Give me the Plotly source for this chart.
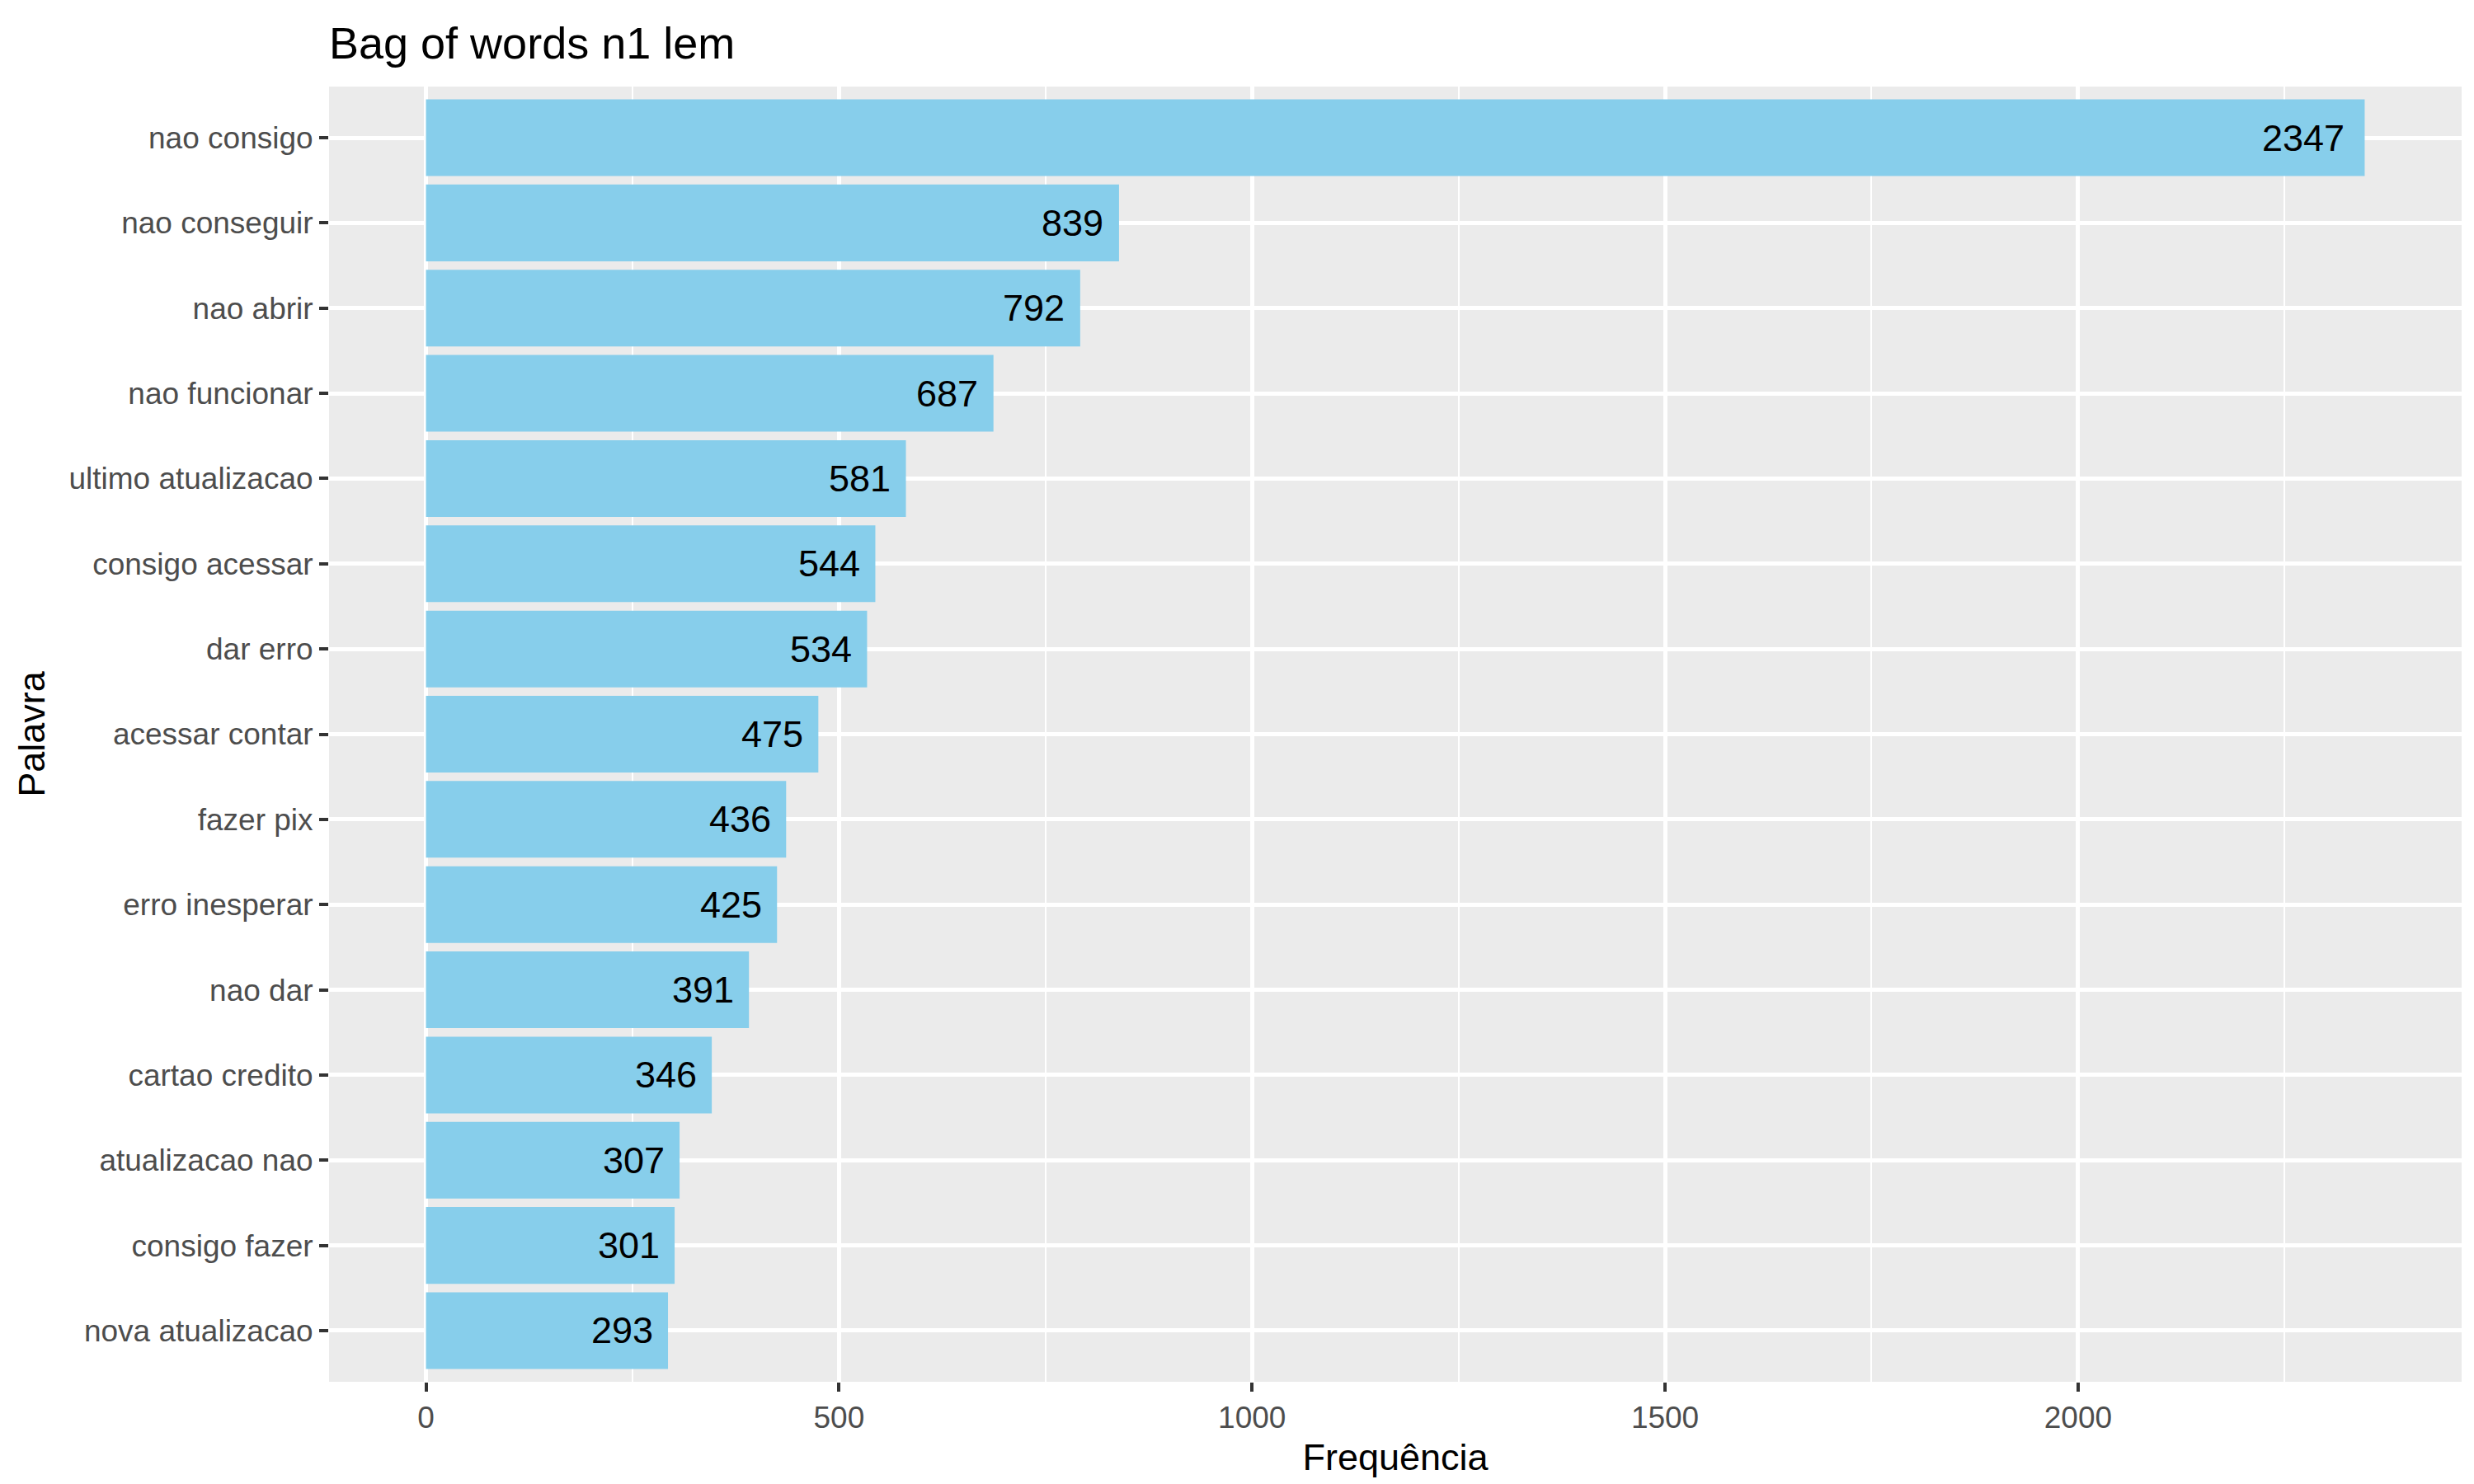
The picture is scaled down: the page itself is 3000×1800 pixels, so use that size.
# Bag of words (bigramas lematizados) - barras horizontais
import plotly.graph_objects as go

palavras = [
    "nao consigo", "nao conseguir", "nao abrir", "nao funcionar",
    "ultimo atualizacao", "consigo acessar", "dar erro", "acessar contar",
    "fazer pix", "erro inesperar", "nao dar", "cartao credito",
    "atualizacao nao", "consigo fazer", "nova atualizacao",
]
frequencias = [2347, 839, 792, 687, 581, 544, 534, 475, 436, 425, 391, 346, 307, 301, 293]

x_ticks = [0, 500, 1000, 1500, 2000]

font_family = "Liberation Sans, Arial, Helvetica, sans-serif"

fig = go.Figure()

fig.add_trace(
    go.Bar(
        x=frequencias, y=palavras,
        orientation='h',
        width=0.9,
        marker=dict(color='#87CEEB', line_width=0),
        hoverinfo='x+y',
        showlegend=False,
    )
)

# rotulos de valor dentro da barra, encostados no fim
for p, f in zip(palavras, frequencias):
    fig.add_annotation(
        x=f, y=p, xref='x', yref='y',
        text=str(f),
        showarrow=False,
        xanchor='right', yanchor='middle',
        xshift=-5.5 * len(str(f)),
        font=dict(size=45, color='black', family=font_family),
    )

# faixa de expansao estilo ggplot (5%)
x_max = max(frequencias)
x_pad = 0.05 * x_max

fig.update_layout(
    title=dict(
        text='Bag of words n1 lem',
        x=391 / 3000, xanchor='left', xref='container',
        y=1 - 44 / 1800, yanchor='middle', yref='container',
        font=dict(size=54, color='black', family=font_family),
    ),
    xaxis=dict(
        title=dict(text='Frequência', font=dict(size=45, color='black', family=font_family), standoff=12),
        range=[-x_pad, x_max + x_pad],
        tickvals=x_ticks,
        ticks='outside', ticklen=11, tickwidth=4, tickcolor='#333333',
        tickfont=dict(size=37, color='#4D4D4D', family=font_family),
        showgrid=True, gridcolor='white', gridwidth=4.5,
        minor=dict(tickvals=[250, 750, 1250, 1750, 2250], showgrid=True, gridcolor='white', gridwidth=2.3, ticks=''),
        zeroline=False, showline=False,
    ),
    yaxis=dict(
        title=dict(text='Palavra', font=dict(size=45, color='black', family=font_family), standoff=14),
        type='category',
        categoryorder='array', categoryarray=palavras,
        range=[len(palavras) - 0.4, -0.6],
        ticks='outside', ticklen=11, tickwidth=4, tickcolor='#333333',
        tickfont=dict(size=37, color='#4D4D4D', family=font_family),
        showgrid=True, gridcolor='white', gridwidth=4.5,
        zeroline=False, showline=False,
    ),
    plot_bgcolor='#EBEBEB',
    paper_bgcolor='white',
    font=dict(family=font_family),
    bargap=0.1,
    width=3000,
    height=1800,
    margin=dict(l=391, r=23, t=97, b=132, pad=0),
)

fig.write_html("out.html")
